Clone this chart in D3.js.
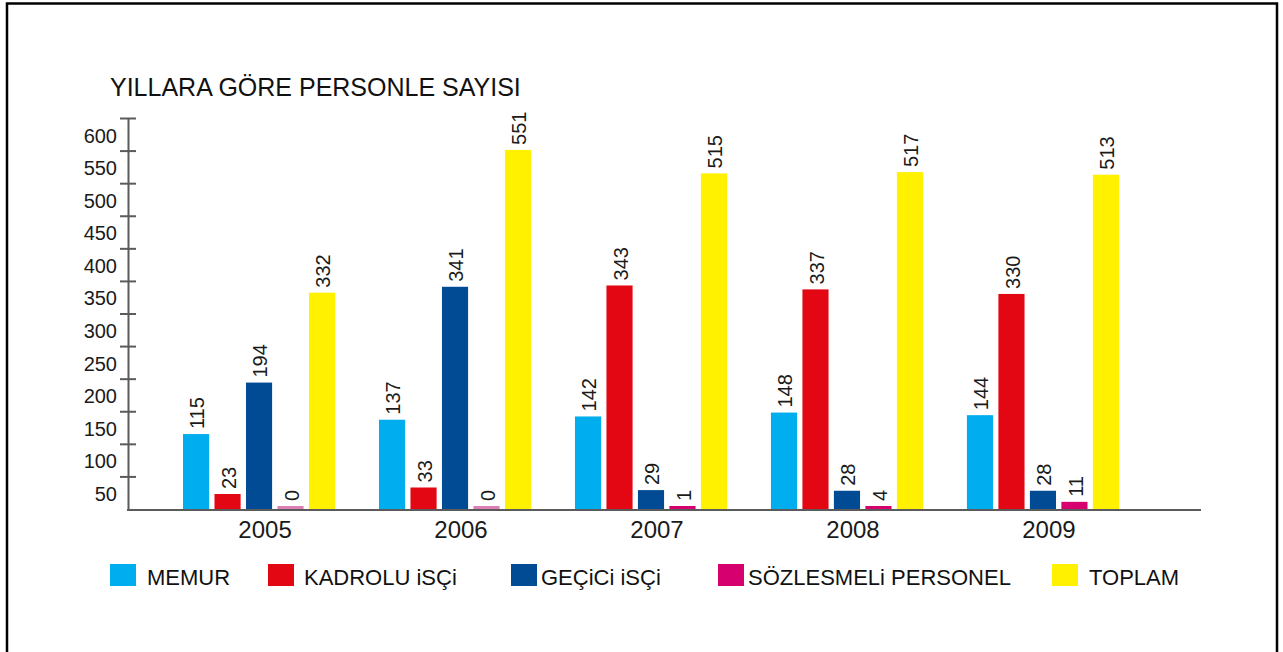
<!DOCTYPE html>
<html>
<head>
<meta charset="utf-8">
<script src="https://cdn.jsdelivr.net/npm/d3@7"></script>
<style>
  html, body { margin: 0; padding: 0; background: #fff; }
  svg { display: block; font-family: "Liberation Sans", Arial, sans-serif; }
  .axis-y .domain, .axis-y .tick line { stroke: #5b5b5b; stroke-width: 2; }
  .axis-y-labels .domain { display: none; }
  .axis text { fill: #1a1a1a; }
</style>
</head>
<body>
<svg id="chart" width="1283" height="652"></svg>
<script>
// yıllara göre personel sayısı
const years = ['2005', '2006', '2007', '2008', '2009'];
const series = ['MEMUR', 'KADROLU iSÇi', 'GEÇiCi iSÇi', 'SÖZLESMELi PERSONEL', 'TOPLAM'];
const memur     = [115, 137, 142, 148, 144];
const kadrolu   = [23, 33, 343, 337, 330];
const gecici    = [194, 341, 29, 28, 28];
const sozlesmeli = [0, 0, 1, 4, 11];
const toplam    = [332, 551, 515, 517, 513];
const yTicks = [50, 100, 150, 200, 250, 300, 350, 400, 450, 500, 550, 600];
const colors = ['#00aeef', '#e30613', '#004b93', '#d6006e', '#fff100'];

const values = [memur, kadrolu, gecici, sozlesmeli, toplam];
const rows = years.map((yr, i) => ({
    year: yr,
    items: series.map((s, j) => ({ key: s, value: values[j][i], color: colors[j] }))
}));

// layout
const AXIS_X = 128, AXIS_END = 1201;
const LEGEND_X = [110, 268, 511, 718, 1052];
const LEGEND_TXT = [37, 36, 30, 30, 37];

const svg = d3.select('#chart');

// frame
svg.append('path')
    .attr('d', 'M7,652 V3.5 H1277 V652')
    .attr('fill', 'none').attr('stroke', '#000').attr('stroke-width', 2.5);

const y = d3.scaleLinear().domain([0, 600]).range([509, 118]);

const x0 = d3.scaleBand().domain(years).range([183, 1119]).paddingInner(0.224);
const x1 = d3.scaleBand().domain(series).range([0, x0.bandwidth()]).paddingInner(0.17);

// title
svg.append('text')
    .attr('x', 110).attr('y', 96)
    .attr('font-size', 25).attr('fill', '#111')
    .text('YILLARA GÖRE PERSONLE SAYISI');

// y axis: tick marks cross the line, labels sit between ticks
const yAxisG = svg.append('g').attr('class', 'axis axis-y')
    .attr('transform', `translate(${AXIS_X},0)`)
    .call(d3.axisLeft(y).tickValues(yTicks).tickSize(8).tickSizeOuter(0).tickFormat(''));
yAxisG.selectAll('.tick line').attr('x1', -8).attr('x2', 8);

svg.append('g').attr('class', 'axis axis-y-labels')
    .attr('transform', `translate(${AXIS_X},0)`)
    .call(d3.axisLeft(y).tickValues(yTicks.map(v => v - 27)).tickSize(0).tickPadding(11)
        .tickFormat(d => d + 27))
    .selectAll('text').attr('font-size', 20).attr('font-family', '"Liberation Sans", Arial, sans-serif');

// bars
const barTop = d => Math.min(y(d.value), y(0) - 3);

const groups = svg.append('g').selectAll('g')
    .data(rows).join('g')
    .attr('transform', d => `translate(${x0(d.year)},0)`);

groups.selectAll('rect')
    .data(d => d.items).join('rect')
    .attr('x', d => x1(d.key))
    .attr('width', x1.bandwidth())
    .attr('y', barTop)
    .attr('height', d => y(0) - barTop(d))
    .attr('fill', d => d.value === 0 ? '#dc7fb4' : d.color);

groups.selectAll('text.val')
    .data(d => d.items).join('text')
    .attr('class', 'val')
    .attr('transform', d => `translate(${x1(d.key) + x1.bandwidth() / 2 + 1},${barTop(d) - 5}) rotate(-90)`)
    .attr('dy', '0.36em')
    .attr('font-size', 20).attr('fill', '#1a1a1a')
    .text(d => d.value);

// x axis line
svg.append('line')
    .attr('x1', AXIS_X - 1).attr('x2', AXIS_END)
    .attr('y1', y(0) + 1).attr('y2', y(0) + 1)
    .attr('stroke', '#5b5b5b').attr('stroke-width', 2);

svg.append('g').selectAll('text.year')
    .data(years).join('text')
    .attr('class', 'year')
    .attr('x', d => x0(d) + x0.bandwidth() / 2 + 6)
    .attr('y', 538)
    .attr('text-anchor', 'middle')
    .attr('font-size', 24).attr('fill', '#1a1a1a')
    .text(d => d);

// legend
const legend = svg.append('g').selectAll('g')
    .data(series).join('g')
    .attr('transform', (d, i) => `translate(${LEGEND_X[i]},564)`);

legend.append('rect')
    .attr('width', 26).attr('height', 22)
    .attr('fill', (d, i) => colors[i]);

legend.append('text')
    .attr('x', (d, i) => LEGEND_TXT[i])
    .attr('y', 21)
    .attr('font-size', 22).attr('fill', '#111')
    .text(d => d);
</script>
</body>
</html>
